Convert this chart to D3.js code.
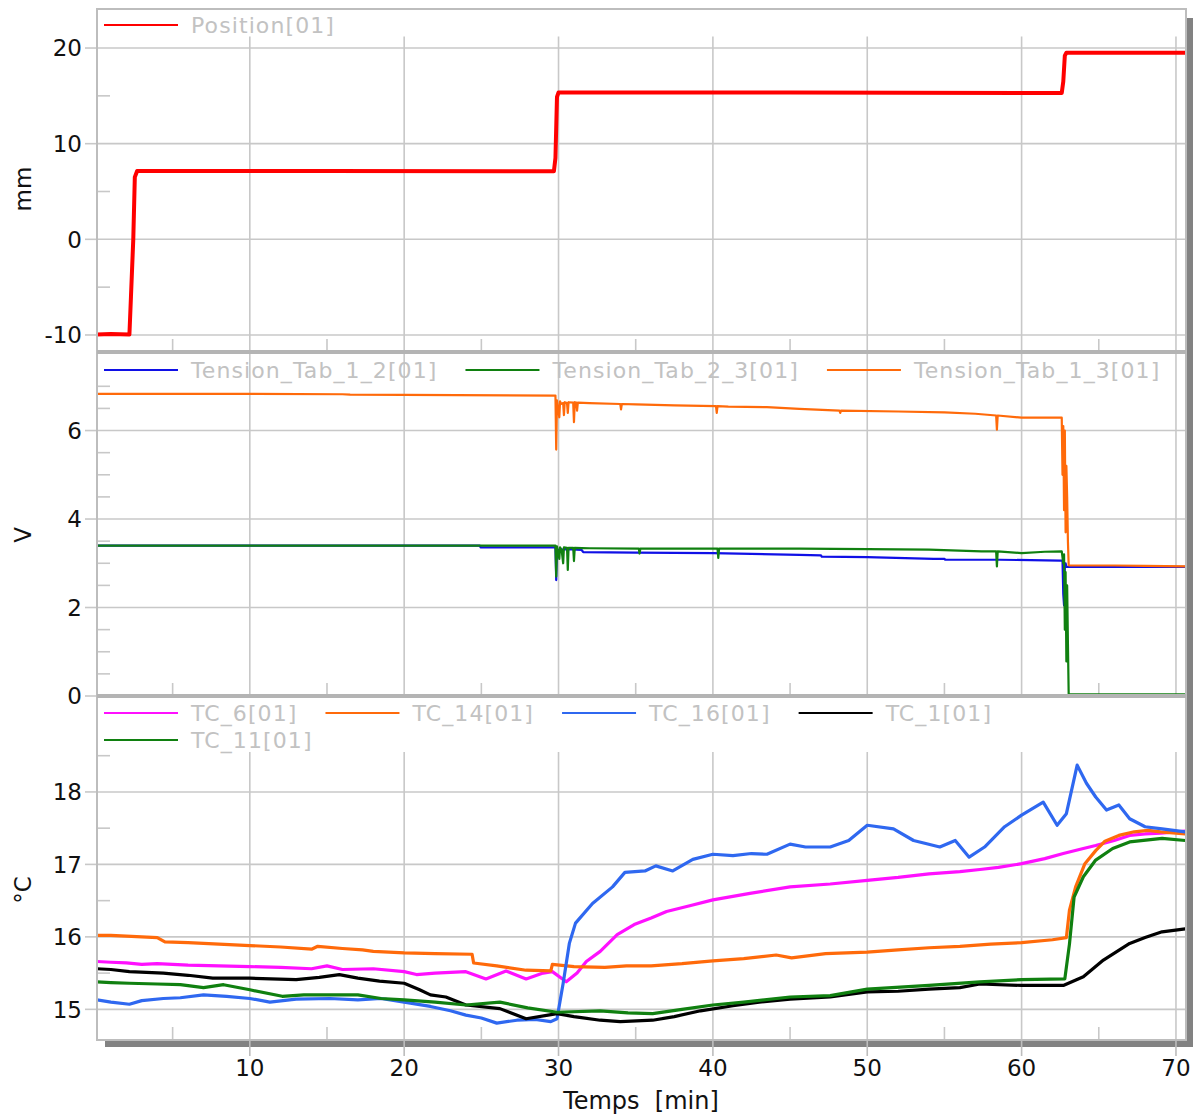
<!DOCTYPE html>
<html><head><meta charset="utf-8">
<script src="https://cdn.jsdelivr.net/npm/d3@7"></script>
<style>
body{margin:0;background:#fff}
text{font-family:"DejaVu Sans",Verdana,sans-serif}
</style>
</head><body>
<svg id="c" width="1200" height="1118"></svg>
<script>
// ---------- DATA ----------
const xTicks = [10, 20, 30, 40, 50, 60, 70];
const xMinorTicks = [5, 15, 25, 35, 45, 55, 65];
const xLabel = "Temps  [min]";

const posTicks = [-10, 0, 10, 20];
const posMinor = [-5, 5, 15];
const voltTicks = [0, 2, 4, 6];
const voltMinor = [0.5, 1, 1.5, 2.5, 3, 3.5, 4.5, 5, 5.5, 6.5, 7];
const tempTicks = [15, 16, 17, 18];
const tempMinor = [15.5, 16.5, 17.5, 18.5];

const position01 = [[0.1,-9.95],[1,-9.9],[2.2,-9.95],[2.3,-6],[2.45,0],[2.55,6.5],[2.7,7.15],[15,7.15],[29.7,7.12],[29.8,8.5],[29.9,14.9],[30.0,15.35],[45,15.35],[62.6,15.3],[62.7,16.5],[62.8,19.2],[62.9,19.5],[70.65,19.5]];

const tension12 = [[0.1,3.4],[24.9,3.4],[24.95,3.36],[29.8,3.36],[29.85,2.62],[29.9,3.3],[30.5,3.32],[31.5,3.3],[31.6,3.25],[35,3.24],[40,3.23],[45.6,3.19],[47,3.18],[47.05,3.15],[50,3.14],[54.3,3.1],[55,3.1],[55.05,3.08],[58.6,3.08],[62.5,3.06],[62.65,3.06],[62.7,2.3],[62.75,2.05],[62.8,2.9],[62.85,3.0],[62.9,2.92],[70.65,2.92]];

const tension23 = [[0.1,3.4],[29.8,3.4],[29.85,2.7],[29.9,3.38],[30.05,3.1],[30.1,3.36],[30.2,3.3],[30.3,3.0],[30.35,3.36],[30.55,3.35],[30.6,2.85],[30.65,3.35],[30.95,3.35],[31.0,3.05],[31.05,3.35],[32,3.34],[35.2,3.33],[35.25,3.22],[35.3,3.33],[40.3,3.33],[40.35,3.12],[40.4,3.33],[45.6,3.33],[50,3.32],[54,3.31],[57.4,3.27],[58.35,3.27],[58.4,2.93],[58.45,3.27],[60,3.23],[61.5,3.26],[62.6,3.27],[62.7,3.0],[62.75,3.2],[62.8,1.5],[62.85,2.8],[62.9,0.78],[62.95,2.5],[63.0,1.2],[63.05,0.04],[70.65,0.04]];

const tension13 = [[0.1,6.83],[10,6.83],[16,6.82],[16.5,6.81],[29.8,6.79],[29.85,5.57],[29.9,6.68],[30.05,6.3],[30.1,6.66],[30.15,6.6],[30.3,6.62],[30.35,6.35],[30.4,6.64],[30.55,6.62],[30.6,6.4],[30.65,6.64],[30.95,6.63],[31.0,6.19],[31.05,6.64],[31.15,6.63],[31.2,6.45],[31.25,6.63],[32,6.62],[34.0,6.6],[34.05,6.48],[34.1,6.6],[35,6.59],[37.5,6.57],[40.2,6.55],[40.25,6.4],[40.3,6.55],[41,6.54],[43.5,6.53],[45.6,6.49],[48.2,6.45],[48.25,6.4],[48.3,6.45],[52,6.43],[55,6.41],[57.0,6.38],[58.35,6.34],[58.4,6.02],[58.45,6.34],[60,6.29],[62.6,6.29],[62.65,5.0],[62.7,6.1],[62.75,4.2],[62.8,6.0],[62.85,3.7],[62.9,5.2],[62.95,4.5],[63.0,3.5],[63.05,2.96],[63.1,2.95],[66,2.95],[68,2.94],[70.65,2.93]];

const tc6 = [[0.1,15.66],[1,15.65],[2,15.64],[3,15.62],[4,15.63],[6,15.61],[8,15.6],[10,15.59],[12,15.58],[14,15.56],[15,15.6],[16,15.55],[18,15.56],[20,15.52],[20.8,15.48],[22,15.5],[24,15.52],[25.3,15.42],[26.6,15.53],[27.9,15.42],[29,15.5],[29.6,15.52],[30.5,15.38],[31.2,15.5],[31.8,15.66],[32.7,15.8],[33.8,16.03],[34.9,16.17],[36,16.26],[37,16.35],[38.5,16.43],[40,16.51],[42.4,16.6],[45,16.69],[47.6,16.73],[50,16.78],[52,16.82],[54,16.87],[56,16.9],[57.3,16.93],[58.5,16.96],[60,17.01],[61.5,17.08],[62.7,17.15],[64,17.22],[64.8,17.26],[66,17.33],[67,17.4],[68,17.42],[69,17.43],[70.6,17.46]];

const tc14 = [[0.1,16.02],[1,16.02],[2,16.01],[3,16.0],[4,15.99],[4.5,15.93],[6,15.92],[8,15.9],[10,15.88],[12,15.86],[14,15.83],[14.4,15.87],[16,15.84],[17.3,15.82],[18,15.8],[20,15.78],[22,15.77],[24.4,15.76],[24.5,15.64],[26,15.6],[27.9,15.54],[29.5,15.53],[29.6,15.62],[31,15.59],[33,15.58],[34.4,15.6],[36,15.6],[38,15.63],[40,15.67],[42,15.7],[44.1,15.75],[45.1,15.71],[47.3,15.77],[50,15.79],[52,15.82],[54,15.85],[56,15.87],[58,15.9],[60,15.92],[62,15.96],[62.9,15.99],[63.1,16.37],[63.5,16.69],[64.1,17.01],[64.8,17.19],[65.4,17.32],[66.3,17.4],[67.3,17.45],[68.2,17.47],[69,17.45],[70.6,17.42]];

const tc16 = [[0.1,15.13],[1,15.1],[2.2,15.07],[3,15.12],[4.4,15.15],[5.5,15.16],[7,15.2],[8.5,15.18],[10,15.15],[11.3,15.1],[13,15.14],[15.2,15.15],[17,15.13],[18.5,15.15],[20,15.1],[21.7,15.04],[23,14.98],[24,14.92],[25,14.88],[26,14.81],[27.3,14.85],[28.5,14.86],[29.5,14.83],[29.9,14.87],[30.3,15.36],[30.7,15.91],[31.1,16.19],[32.2,16.46],[33.5,16.69],[34.3,16.89],[35.6,16.91],[36.3,16.98],[37.4,16.91],[38.7,17.07],[40,17.14],[41.3,17.12],[42.5,17.15],[43.5,17.14],[45,17.28],[46,17.24],[47.6,17.24],[48.8,17.33],[50,17.54],[51.7,17.49],[53,17.33],[54.7,17.24],[55.7,17.33],[56.6,17.1],[57.6,17.24],[58.9,17.52],[60,17.68],[61.4,17.86],[62.3,17.54],[62.9,17.7],[63.6,18.37],[64.2,18.12],[64.8,17.93],[65.5,17.75],[66.3,17.82],[67,17.63],[68,17.52],[69.1,17.49],[70.6,17.45]];

const tc1 = [[0.1,15.56],[1,15.55],[2.2,15.52],[4.4,15.5],[6,15.47],[7.6,15.43],[10,15.43],[13,15.41],[14.5,15.44],[15.8,15.48],[17,15.43],[18.4,15.39],[20,15.36],[21,15.27],[21.7,15.2],[22.7,15.17],[24,15.06],[26.2,15.01],[27.9,14.87],[29.9,14.94],[31,14.9],[32.7,14.85],[34,14.83],[36.1,14.85],[37.5,14.9],[39.2,14.98],[41.3,15.05],[43,15.1],[45,15.14],[47.6,15.17],[50,15.24],[52,15.25],[54,15.28],[56,15.3],[57.3,15.35],[60,15.33],[62.7,15.33],[64,15.45],[65.3,15.68],[67,15.91],[68,15.99],[69.1,16.07],[70.6,16.11]];

const tc11 = [[0.1,15.38],[1,15.37],[2.2,15.36],[4,15.35],[5.5,15.34],[7,15.3],[8.3,15.34],[10,15.27],[12.1,15.18],[13.5,15.2],[15.2,15.2],[17,15.2],[18.5,15.15],[20,15.13],[22,15.1],[24,15.06],[26.2,15.1],[28,15.02],[29.9,14.96],[32.7,14.98],[34.5,14.95],[36.1,14.94],[38,15.0],[40,15.06],[42,15.1],[45,15.17],[47.6,15.19],[50,15.28],[54,15.33],[57.3,15.38],[60,15.41],[62.8,15.42],[63.1,15.9],[63.4,16.55],[64,16.83],[64.8,17.06],[65.9,17.22],[67,17.31],[69.1,17.36],[70.6,17.33]];

// ---------- LAYOUT ----------
const L = 97, R = 1186;
const svg = d3.select("#c");
const x = d3.scaleLinear().domain([0.1, 70.65]).range([L, R]);

const panels = [
  { unit: "mm", top: 9, bottom: 352, domain: [-11.78, 24.08], ticks: posTicks, minor: posMinor, gridTop: 21.2, titleY: 189,
    series: [{ name: "Position[01]", data: position01, color: "#ff0000", w: 4 }] },
  { unit: "V", top: 354, bottom: 696, domain: [0, 7.73], ticks: voltTicks, minor: voltMinor, gridTop: 7.73, titleY: 535,
    series: [
      { name: "Tension_Tab_1_2[01]", data: tension12, color: "#1010e6", w: 2.2 },
      { name: "Tension_Tab_2_3[01]", data: tension23, color: "#108010", w: 2.2 },
      { name: "Tension_Tab_1_3[01]", data: tension13, color: "#ff6a0a", w: 2.2 } ] },
  { unit: "°C", top: 697, bottom: 1040, domain: [14.577, 19.31], ticks: tempTicks, minor: tempMinor, gridTop: 18.55, titleY: 890,
    series: [
      { name: "TC_6[01]", data: tc6, color: "#ff10ff", w: 3.2 },
      { name: "TC_14[01]", data: tc14, color: "#ff6a0a", w: 3.2 },
      { name: "TC_16[01]", data: tc16, color: "#2f68f0", w: 3.2 },
      { name: "TC_1[01]", data: tc1, color: "#000000", w: 3.2 },
      { name: "TC_11[01]", data: tc11, color: "#108010", w: 3.2 } ] }
];

const gridColor = "#c8c8c8";
const tickFont = 23;

// shadows
svg.append("rect").attr("x", R + 1).attr("y", 18).attr("width", 6).attr("height", 1029).attr("fill", "#828282");
svg.append("rect").attr("x", 105).attr("y", 1041).attr("width", R + 7 - 105).attr("height", 6).attr("fill", "#828282");
svg.append("rect").attr("x", L).attr("y", 9).attr("width", R - L).attr("height", 1031).attr("fill", "#fff");

panels.forEach((p, pi) => {
  const y = d3.scaleLinear().domain(p.domain).range([p.bottom, p.top]);
  const g = svg.append("g");
  const clipId = "clip" + pi;
  svg.append("clipPath").attr("id", clipId).append("rect")
    .attr("x", L).attr("y", p.top).attr("width", R - L).attr("height", p.bottom - p.top);

  g.selectAll(".hg").data(p.ticks.filter(v => y(v) < p.bottom - 3)).enter().append("line")
    .attr("x1", L).attr("x2", R).attr("y1", d => y(d)).attr("y2", d => y(d))
    .attr("stroke", gridColor).attr("stroke-width", 1.6);
  g.selectAll(".vg").data(xTicks).enter().append("line")
    .attr("x1", d => x(d)).attr("x2", d => x(d))
    .attr("y1", Math.max(y(p.gridTop), p.top)).attr("y2", p.bottom)
    .attr("stroke", gridColor).attr("stroke-width", 1.6);
  g.selectAll(".xm").data(xMinorTicks).enter().append("line")
    .attr("x1", d => x(d)).attr("x2", d => x(d))
    .attr("y1", p.bottom - 13).attr("y2", p.bottom)
    .attr("stroke", gridColor).attr("stroke-width", 1.6);
  g.selectAll(".ym").data(p.minor.filter(v => y(v) > p.top + 20)).enter().append("line")
    .attr("x1", L).attr("x2", L + 13).attr("y1", d => y(d)).attr("y2", d => y(d))
    .attr("stroke", gridColor).attr("stroke-width", 1.6);
  g.selectAll(".yt").data(p.ticks).enter().append("line")
    .attr("x1", L - 12).attr("x2", L).attr("y1", d => y(d)).attr("y2", d => y(d))
    .attr("stroke", gridColor).attr("stroke-width", 1.6);
  g.selectAll(".yl").data(p.ticks).enter().append("text")
    .attr("x", 82).attr("y", d => y(d)).attr("dy", "0.36em")
    .attr("text-anchor", "end").attr("font-size", tickFont).attr("fill", "#111")
    .text(d => d);
  g.append("text").attr("transform", `translate(23,${p.titleY}) rotate(-90)`)
    .attr("text-anchor", "middle").attr("dy", "0.36em").attr("font-size", tickFont).attr("fill", "#111")
    .text(p.unit);

  const line = d3.line().x(d => x(d[0])).y(d => y(d[1]));
  const sg = g.append("g").attr("clip-path", `url(#${clipId})`);
  p.series.forEach(s => {
    sg.append("path").datum(s.data).attr("d", line)
      .attr("fill", "none").attr("stroke", s.color).attr("stroke-width", s.w)
      .attr("stroke-linejoin", "round");
  });

  let lx = 104, ly = p.top + 16;
  p.series.forEach(s => {
    const t = g.append("text").attr("font-size", 22).attr("letter-spacing", 1.1)
      .attr("fill", "#c2c2c2").attr("dy", "0.36em").text(s.name);
    const tw = t.node().getComputedTextLength();
    if (lx + 87 + tw > R) { lx = 104; ly += 27; }
    g.append("line").attr("x1", lx).attr("x2", lx + 74).attr("y1", ly).attr("y2", ly)
      .attr("stroke", s.color).attr("stroke-width", 2);
    t.attr("x", lx + 87).attr("y", ly);
    lx = lx + 87 + tw + 28;
  });
});

svg.append("rect").attr("x", L).attr("y", 9).attr("width", R - L).attr("height", 1031)
  .attr("fill", "none").attr("stroke", "#bdbdbd").attr("stroke-width", 2);
[352, 696].forEach(yy => {
  svg.append("line").attr("x1", L).attr("x2", R).attr("y1", yy).attr("y2", yy)
    .attr("stroke", "#b4b4b4").attr("stroke-width", 4);
});

svg.selectAll(".xt").data(xTicks).enter().append("line")
  .attr("x1", d => x(d)).attr("x2", d => x(d)).attr("y1", 1040).attr("y2", 1056)
  .attr("stroke", "#bdbdbd").attr("stroke-width", 1.6);
svg.selectAll(".xl").data(xTicks).enter().append("text")
  .attr("x", d => x(d)).attr("y", 1068).attr("dy", "0.36em").attr("text-anchor", "middle")
  .attr("font-size", tickFont).attr("fill", "#111").text(d => d);
svg.append("text").attr("x", 641).attr("y", 1100).attr("dy", "0.36em").attr("text-anchor", "middle")
  .attr("font-size", 24).attr("fill", "#111").style("white-space", "pre").text(xLabel);
</script>
</body></html>
